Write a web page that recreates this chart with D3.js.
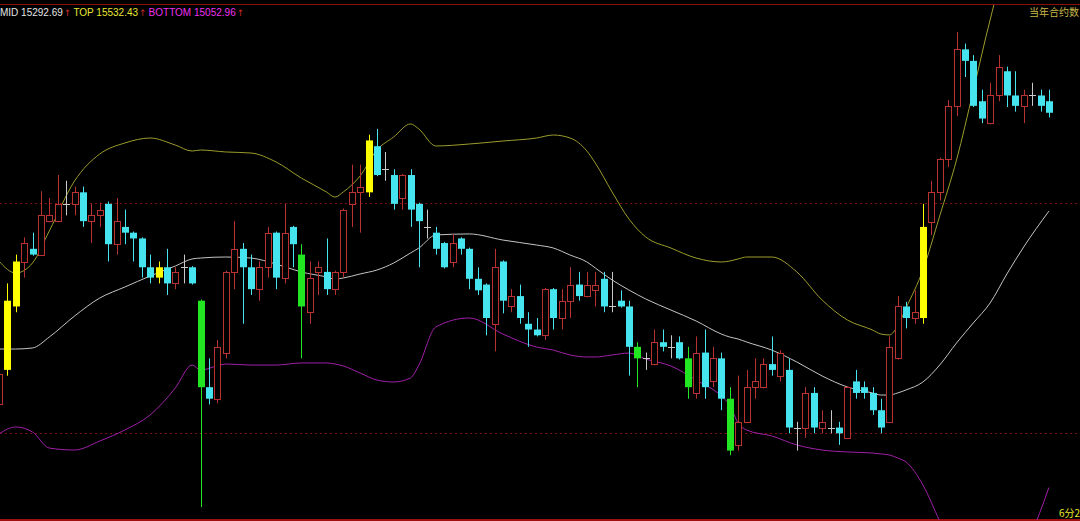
<!DOCTYPE html>
<html><head><meta charset="utf-8">
<script src="https://cdn.jsdelivr.net/npm/d3@7"></script>
<style>html,body{margin:0;padding:0;background:#000;overflow:hidden}</style>
</head><body><svg id="c" width="1080" height="521"></svg>
<script>
// ---- data ----
const firstIndex = -1;
const opens  = [15125,15155,15210,15249,15260,15255,15284,15284,15299,15299,15309,15284,15289,15299,15264,15279,15274,15269,15244,15235,15244,15230,15244,15244,15215,15140,15130,15170,15240,15260,15244,15225,15244,15274,15235,15279,15255,15205,15240,15240,15225,15240,15299,15309,15309,15349,15329,15324,15304,15324,15299,15279,15274,15265,15249,15269,15260,15234,15229,15195,15249,15210,15219,15195,15190,15185,15225,15200,15215,15229,15219,15224,15234,15210,15215,15210,15175,15165,15160,15179,15175,15179,15165,15135,15170,15145,15165,15130,15090,15110,15140,15140,15160,15150,15155,15105,15105,15135,15105,15105,15105,15096,15145,15140,15135,15120,15110,15165,15210,15200,15200,15283,15309,15338,15384,15433,15423,15388,15369,15393,15414,15393,15384,15393,15393,15388];
const highs  = [15155,15230,15255,15270,15274,15310,15304,15324,15319,15314,15314,15299,15300,15301,15304,15294,15275,15270,15255,15249,15260,15244,15255,15245,15216,15165,15181,15241,15284,15265,15255,15249,15279,15275,15299,15280,15264,15249,15249,15269,15241,15295,15333,15333,15359,15364,15344,15329,15325,15329,15300,15294,15279,15266,15273,15270,15261,15244,15230,15260,15250,15225,15229,15205,15200,15226,15226,15225,15244,15240,15240,15240,15240,15240,15224,15215,15179,15170,15190,15190,15185,15184,15175,15184,15190,15175,15170,15140,15150,15155,15165,15165,15184,15172,15165,15110,15140,15140,15120,15120,15110,15141,15155,15145,15140,15130,15184,15219,15214,15224,15299,15319,15339,15389,15448,15438,15428,15398,15404,15428,15418,15414,15398,15404,15398,15398];
const lows   = [15122,15150,15205,15235,15254,15254,15283,15283,15289,15289,15279,15265,15279,15249,15255,15264,15249,15235,15230,15230,15220,15225,15230,15229,15036,15125,15126,15165,15225,15195,15220,15215,15235,15225,15230,15244,15165,15195,15220,15220,15220,15235,15279,15274,15305,15323,15319,15294,15294,15279,15244,15269,15255,15243,15244,15255,15225,15220,15185,15171,15204,15205,15195,15175,15184,15181,15190,15190,15200,15215,15218,15210,15205,15205,15209,15150,15140,15155,15159,15171,15165,15164,15130,15130,15130,15140,15120,15081,15085,15109,15130,15139,15150,15145,15100,15085,15096,15100,15100,15100,15090,15095,15130,15130,15116,15100,15109,15164,15191,15195,15195,15272,15302,15331,15375,15409,15383,15369,15368,15388,15383,15379,15369,15384,15379,15374];
const closes = [15151,15215,15249,15265,15255,15289,15289,15299,15299,15309,15284,15289,15294,15264,15284,15274,15269,15244,15235,15244,15230,15240,15244,15230,15140,15130,15175,15240,15260,15244,15225,15244,15274,15235,15274,15264,15210,15235,15244,15225,15240,15294,15309,15314,15354,15324,15329,15299,15324,15294,15284,15279,15260,15244,15265,15260,15234,15224,15200,15244,15215,15219,15200,15190,15185,15225,15200,15215,15229,15219,15229,15229,15210,15210,15210,15175,15165,15165,15179,15175,15175,15165,15140,15170,15140,15165,15130,15085,15110,15140,15145,15160,15155,15170,15105,15105,15135,15105,15110,15105,15100,15140,15135,15135,15120,15105,15175,15210,15200,15205,15279,15309,15338,15384,15433,15423,15384,15373,15393,15418,15393,15384,15393,15393,15384,15378];
const yellowIdx = [0,1,18,43,109];
const greenIdx  = [23,35,75,81,86];

const bandIdx = [-1,1,3,5,8,11,14,17,20,22,23,26,29,32,35,38,39,40,42,44,46,48,49,51,55,59,63,65,67,69,70,72,74,76,79,82,85,86,87,88,91,94,97,100,103,104,105,106,107,109,111,113,115,117,119,121,124];
const topBand = [15249.4,15239.0,15247.7,15275.5,15318.8,15342.2,15351.8,15356.1,15350.0,15344.8,15345.7,15344.0,15343.1,15335.3,15321.4,15309.3,15304.9,15309.3,15323.2,15345.7,15357.0,15368.3,15363.9,15349.2,15350.9,15353.5,15356.1,15358.7,15356.1,15344.8,15334.4,15309.3,15285.9,15270.3,15260.7,15252.0,15248.6,15249.4,15251.2,15252.9,15252.9,15239.9,15215.6,15198.3,15189.6,15186.1,15185.3,15193.1,15208.7,15241.6,15288.5,15337.0,15397.1,15458.5,15510.5,15526.1,15532.43];
const midBand = [15173.1,15173.1,15174.0,15183.5,15201.7,15217.3,15226.9,15236.4,15245.1,15251.2,15252.0,15252.9,15252.0,15246.8,15239.9,15235.6,15233.8,15234.7,15238.2,15241.6,15247.7,15256.4,15260.7,15272.0,15272.9,15267.6,15263.3,15260.7,15254.6,15248.6,15243.4,15233.0,15224.3,15216.5,15206.9,15197.4,15186.1,15183.5,15181.8,15179.2,15172.2,15161.8,15149.7,15140.2,15135.0,15133.2,15133.2,15135.0,15137.6,15144.5,15159.2,15178.3,15195.7,15213.0,15238.2,15261.6,15292.69];
const botBand = [15099.4,15105.5,15101.1,15087.2,15085.5,15093.3,15102.9,15115.9,15139.3,15159.2,15154.9,15160.1,15159.2,15159.2,15161.0,15161.0,15160.1,15158.4,15152.3,15146.2,15144.5,15148.0,15159.2,15192.2,15200.0,15186.1,15174.8,15172.2,15167.9,15166.2,15166.2,15167.9,15169.6,15164.4,15158.4,15146.2,15132.3,15124.5,15108.9,15102.9,15097.7,15089.9,15085.5,15083.8,15082.9,15082.1,15081.2,15078.6,15075.1,15055.2,15023.9,14994.4,14981.4,14977.1,14985.8,15000.5,15052.96];

const legendLabels = ["MID","TOP","BOTTOM"];
const legendValues = ["15292.69","15532.43","15052.96"];
const gridPrices = [15300,15100];
const titleRight = "当年合约数";
const periodLabel = "6分2";

// ---- drawing ----
const svg = d3.select("#c");
svg.append("rect").attr("width",1080).attr("height",521).attr("fill","#000");

const x = d3.scaleLinear().domain([-1,124]).range([-1.1,1048.9]);
const y = d3.scaleLinear().domain([15100,15300]).range([433.3,202.7]);
const bodyW = 7;

svg.append("clipPath").attr("id","plot").append("rect").attr("x",0).attr("y",5).attr("width",1080).attr("height",515);

// borders
svg.append("line").attr("x1",0).attr("x2",1080).attr("y1",4.5).attr("y2",4.5).attr("stroke","#8a0f0f").attr("stroke-width",1.2);
svg.append("line").attr("x1",0).attr("x2",1080).attr("y1",520).attr("y2",520).attr("stroke","#a01010").attr("stroke-width",2);

// grid
svg.selectAll("line.grid").data(gridPrices).join("line").attr("class","grid")
  .attr("x1",0).attr("x2",1080)
  .attr("y1",d=>Math.round(y(d))+0.5).attr("y2",d=>Math.round(y(d))+0.5)
  .attr("stroke","#7a1010").attr("stroke-dasharray","2,3").attr("stroke-width",1);

const g = svg.append("g").attr("clip-path","url(#plot)");

// bands
const bands = [
  {vals: topBand, color:"#9c9c2c"},
  {vals: midBand, color:"#c4c4c4"},
  {vals: botBand, color:"#a020a8"}
];
const line = d3.line().x(d=>x(d[0])).y(d=>y(d[1])).curve(d3.curveMonotoneX);
bands.forEach(b=>{
  g.append("path").attr("d", line(bandIdx.map((i,k)=>[i,b.vals[k]])))
   .attr("fill","none").attr("stroke",b.color).attr("stroke-width",1);
});

// candles
const candles = opens.map((o,k)=>({i:k+firstIndex,o,h:highs[k],l:lows[k],c:closes[k]}));
const RED="#b83232", CYAN="#46e4ee", YEL="#ffff00", GRN="#22e622", DOJI="#c8c8c8";
candles.forEach(d=>{
  const cx = Math.round(x(d.i));
  const yh = y(d.h), yl = y(d.l), yo = y(d.o), yc = y(d.c);
  const top = Math.min(yo,yc), bot = Math.max(yo,yc);
  let kind;
  if (yellowIdx.includes(d.i)) kind="y";
  else if (greenIdx.includes(d.i)) kind="g";
  else if (d.o===d.c) kind="d";
  else if (d.c>d.o) kind="r";
  else kind="c";
  if (kind==="d"){
    g.append("line").attr("x1",cx+0.5).attr("x2",cx+0.5).attr("y1",yh).attr("y2",yl).attr("stroke",DOJI);
    g.append("line").attr("x1",cx-3).attr("x2",cx+4).attr("y1",Math.round(yo)+0.5).attr("y2",Math.round(yo)+0.5).attr("stroke",DOJI);
  } else if (kind==="r"){
    const t = Math.round(top)+0.5, b = Math.max(Math.round(bot)+0.5, t+1);
    g.append("line").attr("x1",cx+0.5).attr("x2",cx+0.5).attr("y1",yh).attr("y2",t).attr("stroke",RED);
    g.append("line").attr("x1",cx+0.5).attr("x2",cx+0.5).attr("y1",b).attr("y2",yl).attr("stroke",RED);
    g.append("rect").attr("x",cx-3+0.5).attr("y",t).attr("width",bodyW-1).attr("height",b-t)
      .attr("fill","#000").attr("stroke",RED).attr("stroke-width",1);
  } else {
    const col = kind==="y"?YEL:kind==="g"?GRN:CYAN;
    g.append("line").attr("x1",cx+0.5).attr("x2",cx+0.5).attr("y1",yh).attr("y2",yl).attr("stroke",col);
    g.append("rect").attr("x",cx-3).attr("y",top).attr("width",bodyW).attr("height",Math.max(bot-top,1.5))
      .attr("fill",col);
  }
});

// legend
const legendColors = ["#e6e6e6","#e8e830","#f030f0"];
const lt = svg.append("text").attr("x",0).attr("y",15.5)
  .attr("font-family","Liberation Sans, Arial, sans-serif").attr("font-size",10);
legendLabels.forEach((lab,k)=>{
  lt.append("tspan").attr("fill",legendColors[k]).attr("dx",k?2:0).text(lab+" "+legendValues[k]);
  lt.append("tspan").attr("fill","#d02828").attr("dx",1)
    .attr("font-family","DejaVu Sans, sans-serif").attr("font-size",9).text("↑");
});
svg.append("text").attr("x",1029).attr("y",16).attr("fill","#c8b848")
  .attr("font-family","Noto Sans CJK SC, sans-serif").attr("font-size",10).text(titleRight);
svg.append("text").attr("x",1059).attr("y",517).attr("fill","#e8e830")
  .attr("font-family","Noto Sans CJK SC, sans-serif").attr("font-size",10).text(periodLabel);
</script></body></html>
